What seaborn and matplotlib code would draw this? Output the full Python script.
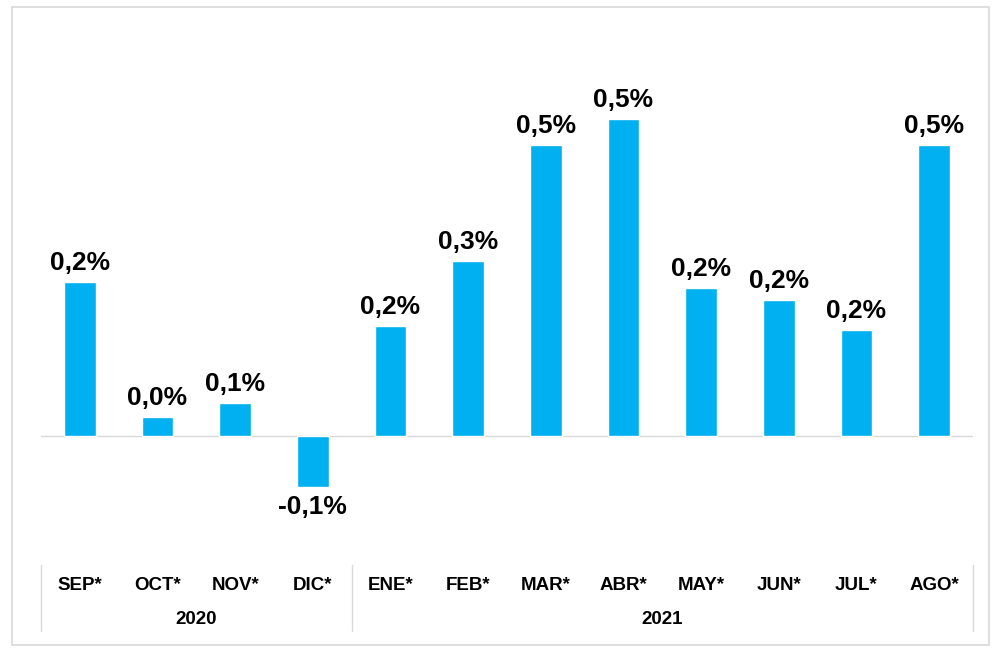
import seaborn as sns
import matplotlib.pyplot as plt
import matplotlib.transforms as mtransforms
from matplotlib.patches import Rectangle
import pandas as pd

# monthly values (%)
months = ["SEP*", "OCT*", "NOV*", "DIC*", "ENE*", "FEB*", "MAR*", "ABR*",
          "MAY*", "JUN*", "JUL*", "AGO*"]
values = [0.248, 0.031, 0.053, -0.082, 0.177, 0.282, 0.469, 0.511,
          0.239, 0.219, 0.171, 0.469]
years = ["2020", "2021"]
year_counts = [4, 8]

df = pd.DataFrame({"mes": months, "valor": values})

sns.set_theme(style="white")
plt.rcParams["font.family"] = ["Liberation Sans", "DejaVu Sans"]
plt.rcParams["text.color"] = "black"

fig = plt.figure(figsize=(10, 6.58), dpi=100)
ax = fig.add_axes([0.041, 1 - 530 / 658, 0.932, 450 / 658])

sns.barplot(data=df, x="mes", y="valor", color="#00B0F0", width=0.41,
            saturation=1, ax=ax)

ax.set_xlim(-0.5, len(months) - 0.5)
ax.set_ylim(-94 / 620, 356 / 620)
ax.axhline(0, color="#d9d9d9", lw=1, zorder=0)
for s in ax.spines.values():
    s.set_visible(False)
ax.set_xticks([])
ax.set_yticks([])
ax.set_xlabel("")
ax.set_ylabel("")

# value labels
for i, v in enumerate(values):
    txt = f"{v:.1f}%".replace(".", ",")
    if v >= 0:
        ax.annotate(txt, (i, v), xytext=(0, 5), textcoords="offset points",
                    ha="center", va="bottom", fontsize=19, fontweight="bold")
    else:
        ax.annotate(txt, (i, v), xytext=(0, -6), textcoords="offset points",
                    ha="center", va="top", fontsize=19, fontweight="bold")

# category table below
trans = mtransforms.blended_transform_factory(ax.transData, fig.transFigure)
for i, m in enumerate(months):
    ax.text(i, 1 - 585 / 658, m, transform=trans, ha="center", va="center",
            fontsize=13.5, fontweight="bold")

start = 0
for y, n in zip(years, year_counts):
    ax.text(start + (n - 1) / 2, 1 - 620 / 658, y, transform=trans,
            ha="center", va="center", fontsize=13.5, fontweight="bold")
    start += n

edges = [-0.5]
for n in year_counts:
    edges.append(edges[-1] + n)
for e in edges:
    ax.plot([e, e], [1 - 565 / 658, 1 - 631 / 658], transform=trans,
            color="#d9d9d9", lw=1, clip_on=False)

# outer frame
fig.patches.append(Rectangle((12 / 1000, 1 - 645 / 658), 977 / 1000, 638 / 658,
                             transform=fig.transFigure, fill=False,
                             edgecolor="#d9d9d9", lw=1.2))

plt.savefig("out.png", dpi=100)
